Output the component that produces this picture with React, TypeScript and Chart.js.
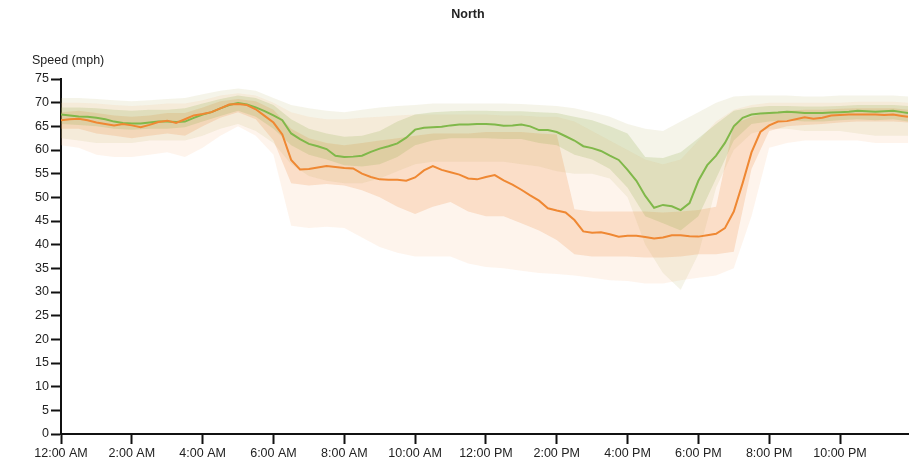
import React, { useEffect, useRef } from "react";
import { Chart, registerables } from "chart.js";

Chart.register(...registerables);

const TITLE = "North";
const Y_LABEL = "Speed (mph)";
const END_HOUR = 23.92;

const tickHours = [0, 2, 4, 6, 8, 10, 12, 14, 16, 18, 20, 22];
const tickLabels = [
  "12:00 AM", "2:00 AM", "4:00 AM", "6:00 AM", "8:00 AM", "10:00 AM",
  "12:00 PM", "2:00 PM", "4:00 PM", "6:00 PM", "8:00 PM", "10:00 PM",
];

// x grids (hours): lines every 15 min, bands every 30 min, both ending at 11:55 PM
const lineHours = [...Array.from({ length: 96 }, (_, i) => i * 0.25), END_HOUR];
const bandHours = [...Array.from({ length: 48 }, (_, i) => i * 0.5), END_HOUR];

// median speed lines (15-min)
const greenLine = [
  67.5, 67.3, 67.1, 67.0, 66.8, 66.5, 66.0, 65.7,
  65.6, 65.6, 65.8, 66.0, 66.0, 65.9, 66.0, 66.8,
  67.5, 68.0, 68.8, 69.5, 69.9, 69.6, 69.0, 68.2,
  67.3, 66.3, 63.5, 62.3, 61.3, 60.8, 60.2, 58.8,
  58.5, 58.6, 58.8, 59.6, 60.3, 60.8, 61.4, 62.6,
  64.3, 64.7, 64.8, 64.9, 65.2, 65.4, 65.4, 65.5,
  65.5, 65.4, 65.1, 65.2, 65.4, 65.0, 64.2, 64.2,
  63.8, 62.9, 62.0, 60.8, 60.4, 59.8, 58.8, 57.9,
  55.8, 53.5, 50.3, 47.8, 48.4, 48.1, 47.3, 48.8,
  53.5, 56.8, 58.8, 61.5, 65.0, 66.8, 67.5, 67.7,
  67.8, 67.9, 68.1, 68.0, 67.8, 67.8, 67.8, 67.9,
  68.0, 68.1, 68.3, 68.2, 68.1, 68.2, 68.3, 68.0,
  67.8,
];

const orangeLine = [
  66.3, 66.5, 66.6, 66.3, 65.8, 65.5, 65.2, 65.5,
  65.2, 64.8, 65.3, 65.9, 66.2, 65.7, 66.5, 67.3,
  67.6, 68.0, 68.8, 69.6, 69.7, 69.5, 68.6, 67.2,
  65.8, 63.3, 57.9, 55.9, 56.0, 56.3, 56.6, 56.4,
  56.2, 56.1, 55.0, 54.3, 53.8, 53.7, 53.7, 53.5,
  54.2, 55.7, 56.6, 55.8, 55.3, 54.8, 54.0, 53.8,
  54.3, 54.7, 53.6, 52.7, 51.6, 50.4, 49.3, 47.7,
  47.2, 46.8, 45.2, 42.8, 42.5, 42.6, 42.2, 41.7,
  41.9, 41.9, 41.6, 41.3, 41.5, 42.0, 42.0, 41.8,
  41.7, 42.0, 42.3, 43.5, 47.0, 53.0, 59.5, 63.8,
  65.2, 66.0, 66.1, 66.5, 66.9, 66.6, 66.8, 67.3,
  67.4, 67.5, 67.5, 67.5, 67.5, 67.4, 67.5, 67.2,
  67.0,
];

// bands (30-min)
const greenOuterHi = [
  71.0, 71.0, 70.8, 70.5, 70.3, 70.5, 70.8, 71.0,
  71.8, 72.5, 73.0, 72.5, 71.0, 69.5, 68.8, 68.3,
  68.0, 68.5, 69.0, 69.3, 69.5, 69.8, 69.8, 69.8,
  69.8, 69.8, 69.7, 69.5, 69.3, 68.8, 68.0, 67.0,
  65.5, 64.5, 64.0, 66.0, 68.0, 70.0, 71.3, 71.5,
  71.5, 71.5, 71.3, 71.3, 71.5, 71.5, 71.5, 71.5,
  71.3,
];
const greenOuterLo = [
  62.5, 62.0, 61.5, 61.5, 61.5, 62.0, 62.0, 62.0,
  63.0, 64.5, 65.5, 64.0, 61.5, 57.0, 54.5, 53.5,
  53.0, 53.0, 54.0, 55.5, 57.0, 57.5, 57.5, 57.5,
  57.5, 57.5, 57.0, 56.5, 55.5, 55.0, 55.0, 54.0,
  50.0, 40.0, 34.0, 30.5, 38.0, 52.0, 60.0, 63.5,
  64.5, 64.5, 64.0, 64.0, 64.0, 63.5, 63.0, 63.0,
  63.0,
];
const greenInnerHi = [
  69.0, 69.0, 68.8, 68.5, 68.3, 68.5, 68.5, 68.8,
  69.8, 70.8, 71.5, 71.0, 69.5, 66.5, 64.5, 63.5,
  62.8, 63.0, 64.0, 66.0, 67.5, 68.0, 68.2, 68.3,
  68.3, 68.2, 68.2, 68.0, 67.8, 67.0, 66.3, 65.0,
  63.5, 58.5, 58.3, 59.5, 62.5, 65.5, 68.3, 69.0,
  69.3, 69.3, 69.2, 69.2, 69.3, 69.5, 69.5, 69.5,
  69.3,
];
const greenInnerLo = [
  65.5, 65.3, 65.0, 64.5, 64.3, 64.5, 64.5, 64.8,
  66.0, 67.2, 68.3, 67.0, 64.5, 61.0, 59.0, 58.0,
  56.8, 56.5, 57.0, 58.5, 61.0, 62.0, 62.5, 62.5,
  62.5, 62.3, 62.3, 61.5, 61.0, 59.0, 58.0, 56.0,
  52.0, 46.0, 44.5, 43.0, 46.0, 54.0, 62.0, 65.5,
  66.0, 66.3, 66.0, 66.0, 66.3, 66.5, 66.3, 66.5,
  66.0,
];
const orangeOuterHi = [
  70.0, 70.0, 69.8, 69.5, 69.3, 69.5, 69.8, 69.8,
  70.5, 71.5, 72.0, 71.5, 70.0, 68.0, 67.0, 66.5,
  66.5, 66.8, 67.0, 67.3, 67.5, 67.5, 67.5, 67.5,
  67.5, 67.3, 67.3, 67.0, 67.0, 66.0, 64.0, 62.0,
  60.0, 58.0, 57.0, 58.0, 62.0, 66.0, 68.5, 69.5,
  70.0, 70.0, 70.0, 70.0, 70.0, 70.2, 70.2, 70.2,
  70.0,
];
const orangeOuterLo = [
  61.0, 60.5, 59.0, 58.5, 58.5, 59.0, 59.5, 58.5,
  60.5, 63.0, 65.0, 63.0, 59.0, 44.0, 43.5, 43.8,
  43.5, 41.5, 39.5, 38.3, 37.5, 37.5, 37.5, 36.0,
  35.3, 35.0, 34.5, 34.0, 33.8, 33.5, 33.0, 32.5,
  32.3, 31.8, 31.8, 32.5, 33.0, 33.5, 35.0, 46.0,
  60.5, 61.5, 62.0, 62.0, 62.0, 62.0, 61.5, 61.5,
  61.5,
];
const orangeInnerHi = [
  68.0, 68.3, 67.8, 67.3, 67.0, 67.3, 67.8, 67.8,
  69.0, 70.3, 70.8, 70.3, 68.5, 64.5, 62.5, 61.5,
  61.0, 61.5, 62.0, 62.5, 63.0, 63.5, 63.5, 63.5,
  63.8, 63.8, 63.8, 63.5, 63.3, 47.5, 47.0, 47.0,
  47.0, 47.0, 46.8, 47.0, 47.3, 48.0, 65.5, 67.0,
  68.0, 68.3, 68.5, 68.5, 68.7, 68.8, 68.8, 68.8,
  68.5,
];
const orangeInnerLo = [
  64.5, 64.5, 63.5, 63.0, 62.5, 63.0, 63.5, 63.0,
  65.0, 66.8, 68.0, 66.5, 62.0, 53.0, 52.5, 52.8,
  52.5, 51.5, 50.0, 48.0, 46.5, 48.0, 49.0, 47.0,
  46.0, 46.0, 44.5, 43.0, 41.0, 38.0, 37.5, 37.5,
  37.5, 37.3, 37.3, 37.5, 38.0, 38.0, 38.5, 56.0,
  64.0, 65.0, 65.3, 65.5, 65.8, 66.0, 66.0, 66.0,
  65.8,
];

const FONT = '"Liberation Sans", Arial, sans-serif';
const TEXT_COLOR = "#222";
const AXIS_COLOR = "#111";

const ORANGE = "#ef8833";
const GREEN = "#80b84a";

const pts = (xs: number[], ys: number[]) => ys.map((y, i) => ({ x: xs[i], y }));

const textPlugin = {
  id: "chartTexts",
  afterDraw(chart: any) {
    const ctx = chart.ctx;
    ctx.save();
    ctx.fillStyle = TEXT_COLOR;
    ctx.textBaseline = "middle";
    ctx.textAlign = "center";
    ctx.font = `bold 12.5px ${FONT}`;
    ctx.fillText(TITLE, 468, 15);
    ctx.textAlign = "left";
    ctx.font = `12.5px ${FONT}`;
    ctx.fillText(Y_LABEL, 32, 61);
    ctx.restore();
  },
};

function bandPair(lo: number[], hi: number[], loIndex: number, color: string, order: number) {
  return [
    {
      data: pts(bandHours, lo),
      borderWidth: 0,
      pointRadius: 0,
      fill: false,
      borderColor: "rgba(0,0,0,0)",
      order,
    },
    {
      data: pts(bandHours, hi),
      borderWidth: 0,
      pointRadius: 0,
      borderColor: "rgba(0,0,0,0)",
      backgroundColor: color,
      fill: { target: loIndex },
      order,
    },
  ];
}

export default function App() {
  const ref = useRef<HTMLCanvasElement | null>(null);

  useEffect(() => {
    if (!ref.current) return;
    const datasets: any[] = [
      {
        data: pts(lineHours, orangeLine),
        borderColor: ORANGE,
        borderWidth: 2,
        pointRadius: 0,
        fill: false,
        order: 0,
      },
      {
        data: pts(lineHours, greenLine),
        borderColor: GREEN,
        borderWidth: 2,
        pointRadius: 0,
        fill: false,
        order: 0,
      },
      ...bandPair(greenInnerLo, greenInnerHi, 2, "rgba(140,170,70,0.20)", 1),
      ...bandPair(orangeInnerLo, orangeInnerHi, 4, "rgba(240,155,90,0.25)", 2),
      ...bandPair(greenOuterLo, greenOuterHi, 6, "rgba(185,180,110,0.15)", 3),
      ...bandPair(orangeOuterLo, orangeOuterHi, 8, "rgba(248,185,135,0.16)", 4),
    ];

    const chart = new Chart(ref.current, {
      type: "line",
      data: { datasets },
      plugins: [textPlugin],
      options: {
        animation: false,
        responsive: false,
        devicePixelRatio: 1,
        layout: { padding: { top: 79, right: 8, left: 0, bottom: 0 } },
        plugins: {
          legend: { display: false },
          tooltip: { enabled: false },
          title: { display: false },
        },
        elements: { line: { tension: 0 } },
        scales: {
          x: {
            type: "linear",
            min: 0,
            max: END_HOUR,
            afterFit: (s: any) => {
              s.height = 32;
            },
            afterBuildTicks: (s: any) => {
              s.ticks = tickHours.map((v) => ({ value: v }));
            },
            ticks: {
              autoSkip: false,
              maxRotation: 0,
              padding: 2,
              color: TEXT_COLOR,
              font: { family: FONT, size: 12.5 },
              callback: (v: any) => {
                const i = tickHours.indexOf(Number(v));
                return i >= 0 ? tickLabels[i] : "";
              },
            },
            grid: {
              drawOnChartArea: false,
              drawTicks: true,
              tickLength: 10,
              tickWidth: 2,
              tickColor: AXIS_COLOR,
            },
            border: { display: true, color: AXIS_COLOR, width: 2 },
          },
          y: {
            min: 0,
            max: 75,
            afterFit: (s: any) => {
              s.width = 61;
            },
            ticks: {
              stepSize: 5,
              padding: 2,
              color: TEXT_COLOR,
              font: { family: FONT, size: 12.5 },
            },
            grid: {
              drawOnChartArea: false,
              drawTicks: true,
              tickLength: 10,
              tickWidth: 2,
              tickColor: AXIS_COLOR,
            },
            border: { display: true, color: AXIS_COLOR, width: 2 },
          },
        },
      },
    } as any);
    return () => chart.destroy();
  }, []);

  return (
    <div style={{ position: "fixed", left: 0, top: 0, width: 916, height: 466, background: "#fff" }}>
      <canvas ref={ref} width={916} height={466} style={{ display: "block", width: 916, height: 466 }} />
    </div>
  );
}
